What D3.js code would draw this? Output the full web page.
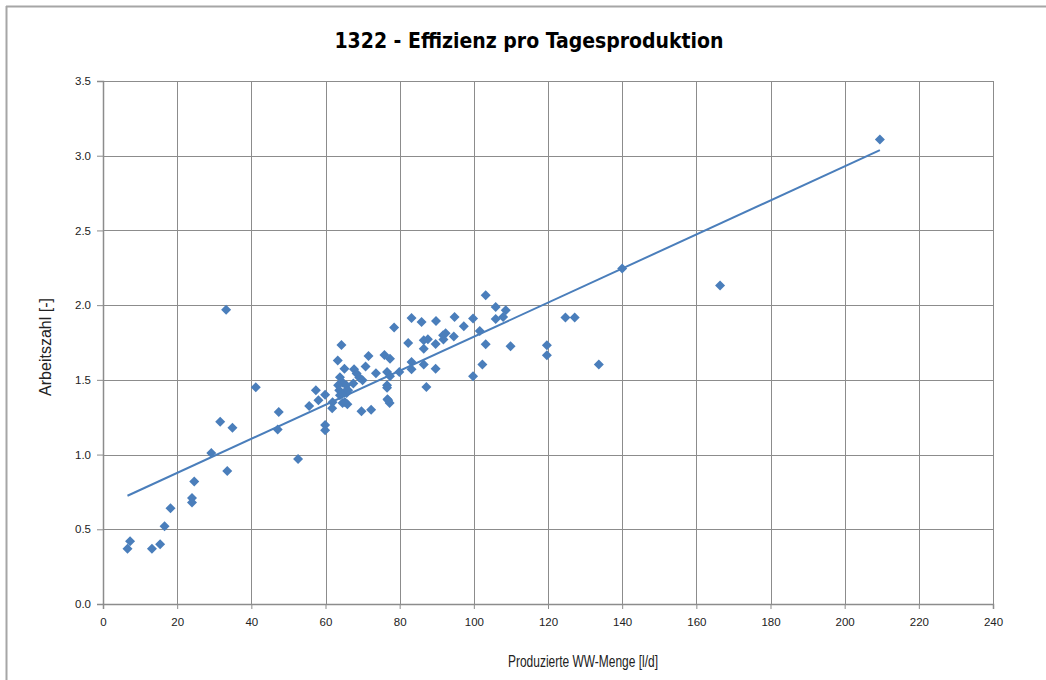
<!DOCTYPE html>
<html>
<head>
<meta charset="utf-8">
<script src="https://cdn.jsdelivr.net/npm/d3@7"></script>
<style>
  body { margin: 0; background: #fff; }
  svg { display: block; }
</style>
</head>
<body>
<script>
// Daily production (x) vs. efficiency (y)
var wwMenge = [
  6.6, 7.3, 13.2, 15.4, 16.6, 18.2, 24.0, 24.0, 24.6, 29.2,
  33.5, 52.6, 33.2, 41.2, 31.6, 34.9, 47.4, 47.1, 55.6, 58.1,
  57.4, 59.9, 61.8, 59.9, 59.9, 64.3, 63.3, 65.1, 61.9, 63.9,
  64.7, 65.6, 63.7, 65.7, 64.6, 65.9, 67.7, 68.4, 69.1, 70.0,
  67.5, 70.8, 71.6, 69.7, 72.3, 73.6, 75.9, 77.4, 76.6, 77.4,
  76.6, 76.6, 76.7, 77.3, 78.5, 79.9, 83.2, 85.9, 89.8, 94.8,
  99.8, 103.2, 105.9, 108.6, 105.9, 107.9, 82.3, 83.2, 83.2, 86.5,
  87.6, 86.5, 86.5, 87.2, 89.7, 89.7, 92.4, 91.8, 94.6, 97.3,
  101.6, 103.2, 102.3, 99.8, 109.9, 119.7, 119.7, 124.7, 127.2, 133.7,
  166.4, 140.0, 209.5, 65.2, 66.1, 63.9, 65.2, 76.9, 91.7, 63.4
];

var arbeitszahl = [
  0.37, 0.42, 0.37, 0.40, 0.52, 0.64, 0.71, 0.68, 0.82, 1.01,
  0.89, 0.97, 1.97, 1.45, 1.22, 1.18, 1.285, 1.167, 1.325, 1.363,
  1.43, 1.40, 1.31, 1.198, 1.163, 1.733, 1.63, 1.575, 1.35, 1.517,
  1.48, 1.464, 1.43, 1.412, 1.345, 1.337, 1.571, 1.542, 1.515, 1.497,
  1.475, 1.59, 1.66, 1.29, 1.30, 1.544, 1.667, 1.642, 1.553, 1.524,
  1.464, 1.448, 1.37, 1.345, 1.85, 1.553, 1.914, 1.888, 1.894, 1.921,
  1.91, 2.066, 1.988, 1.966, 1.908, 1.921, 1.747, 1.62, 1.571, 1.765,
  1.772, 1.709, 1.602, 1.452, 1.74, 1.575, 1.812, 1.77, 1.79, 1.859,
  1.827, 1.738, 1.602, 1.524, 1.725, 1.732, 1.665, 1.917, 1.917, 1.602,
  2.131, 2.246, 3.109, 1.419, 1.43, 1.397, 1.352, 1.363, 1.798, 1.464
];

var xTicks = [0, 20, 40, 60, 80, 100, 120, 140, 160, 180, 200, 220, 240];
var yTicks = [0, 0.5, 1.0, 1.5, 2.0, 2.5, 3.0, 3.5];

var title = "1322 - Effizienz pro Tagesproduktion";
var xTitle = "Produzierte WW-Menge [l/d]";
var yTitle = "Arbeitszahl  [-]";

var svgWidth = 1046;
var svgHeight = 680;

var margin = {
  top: 81,
  right: 53,
  bottom: 76,
  left: 103
};

var width = svgWidth - margin.left - margin.right;
var height = svgHeight - margin.top - margin.bottom;

var blue = "#4a7ebb";
var gridColor = "#8c8c8c";

var points = wwMenge.map(function(x, i) {
  return { x: x, y: arbeitszahl[i] };
});

var svg = d3.select("body")
  .append("svg")
  .attr("width", svgWidth)
  .attr("height", svgHeight);

// chart area frame (only top and left edges are visible in the picture)
svg.append("line")
  .attr("x1", 6).attr("x2", svgWidth)
  .attr("y1", 6.5).attr("y2", 6.5)
  .attr("stroke", "#a6a6a6")
  .attr("stroke-width", 2);
svg.append("line")
  .attr("x1", 6.5).attr("x2", 6.5)
  .attr("y1", 6).attr("y2", svgHeight)
  .attr("stroke", "#a6a6a6")
  .attr("stroke-width", 2);

var chartGroup = svg.append("g")
  .attr("transform", `translate(${margin.left}, ${margin.top})`);

var xLinearScale = d3.scaleLinear()
  .domain([0, 240])
  .range([0, width]);

var yLinearScale = d3.scaleLinear()
  .domain([0, 3.5])
  .range([height, 0]);

// gridlines
chartGroup.append("g")
  .selectAll("line")
  .data(xTicks.slice(1))
  .enter()
  .append("line")
  .attr("x1", d => Math.round(xLinearScale(d)) + 0.5)
  .attr("x2", d => Math.round(xLinearScale(d)) + 0.5)
  .attr("y1", 0)
  .attr("y2", height)
  .attr("stroke", gridColor)
  .attr("stroke-width", 1);

chartGroup.append("g")
  .selectAll("line")
  .data(yTicks.slice(1))
  .enter()
  .append("line")
  .attr("x1", 0)
  .attr("x2", width)
  .attr("y1", d => Math.round(yLinearScale(d)) + 0.5)
  .attr("y2", d => Math.round(yLinearScale(d)) + 0.5)
  .attr("stroke", gridColor)
  .attr("stroke-width", 1);

// axes
var bottomAxis = d3.axisBottom(xLinearScale)
  .tickValues(xTicks)
  .tickSize(5)
  .tickPadding(9)
  .tickFormat(d3.format("d"));

var leftAxis = d3.axisLeft(yLinearScale)
  .tickValues(yTicks)
  .tickSize(6)
  .tickPadding(6)
  .tickFormat(d3.format(".1f"));

var xAxis = chartGroup.append("g")
  .attr("transform", `translate(0, ${height})`)
  .call(bottomAxis);

var yAxis = chartGroup.append("g")
  .call(leftAxis);

[xAxis, yAxis].forEach(function(ax) {
  ax.select(".domain").attr("stroke", gridColor).attr("stroke-width", 1.5);
  ax.selectAll(".tick line").attr("stroke", gridColor);
  ax.selectAll(".tick text")
    .attr("fill", "#222")
    .style("font-family", "'Liberation Sans', Arial, sans-serif")
    .style("font-size", "11.5px");
});

// trendline: least squares fit over the data range
var meanX = d3.mean(points, d => d.x);
var meanY = d3.mean(points, d => d.y);
var slope = d3.sum(points, d => (d.x - meanX) * (d.y - meanY)) /
  d3.sum(points, d => (d.x - meanX) * (d.x - meanX));
var intercept = meanY - slope * meanX;
var xExtent = d3.extent(points, d => d.x);

chartGroup.append("line")
  .attr("x1", xLinearScale(xExtent[0]))
  .attr("y1", yLinearScale(intercept + slope * xExtent[0]))
  .attr("x2", xLinearScale(xExtent[1]))
  .attr("y2", yLinearScale(intercept + slope * xExtent[1]))
  .attr("stroke", blue)
  .attr("stroke-width", 2);

// diamond markers
chartGroup.append("g")
  .selectAll("path")
  .data(points)
  .enter()
  .append("path")
  .attr("transform", d => `translate(${xLinearScale(d.x)}, ${yLinearScale(d.y)})`)
  .attr("d", "M0,-5L5,0L0,5L-5,0Z")
  .attr("fill", blue);

// titles
svg.append("text")
  .attr("x", 529)
  .attr("y", 48)
  .attr("text-anchor", "middle")
  .style("font-family", "'DejaVu Sans Condensed', 'Liberation Sans Narrow', sans-serif")
  .style("font-weight", "bold")
  .style("font-size", "21px")
  .text(title);

// the original uses a narrow font, so squeeze the axis title to its width
svg.append("text")
  .attr("x", 508)
  .attr("y", 667)
  .attr("textLength", 150)
  .attr("lengthAdjust", "spacingAndGlyphs")
  .style("font-family", "'Liberation Sans', Arial, sans-serif")
  .style("font-size", "17px")
  .attr("fill", "#222")
  .text(xTitle);

svg.append("text")
  .attr("transform", `translate(51, 347) rotate(-90)`)
  .attr("text-anchor", "middle")
  .style("font-family", "'Liberation Sans', Arial, sans-serif")
  .style("font-size", "16px")
  .attr("fill", "#222")
  .text(yTitle);
</script>
</body>
</html>
